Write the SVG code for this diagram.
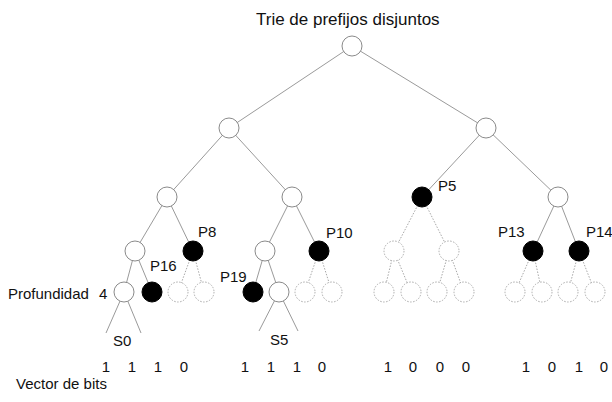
<svg xmlns="http://www.w3.org/2000/svg" width="612" height="402" viewBox="0 0 612 402">
  <style>
    text { font-family: "Liberation Sans", Arial, sans-serif; font-size: 15px; fill: #111; }
    .title { font-size: 17px; }
    .e { stroke: #9a9a9a; stroke-width: 1; fill: none; }
    .ed { stroke: #a8a8a8; stroke-width: 1; stroke-dasharray: 1.5 1.5; fill: none; }
    .n { fill: #fff; stroke: #8a8a8a; stroke-width: 1; }
    .p { fill: #000; stroke: #000; stroke-width: 1; }
    .d { fill: #fff; stroke: #aaa; stroke-width: 1; stroke-dasharray: 1.5 1.5; }
  </style>

  <text class="title" x="256" y="25">Trie de prefijos disjuntos</text>

  <!-- connectors -->
  <g id="edges">
    <line class="e" x1="352" y1="46" x2="229" y2="128"/>
    <line class="e" x1="352" y1="46" x2="486" y2="128"/>
    <line class="e" x1="229" y1="128" x2="167" y2="197"/>
    <line class="e" x1="229" y1="128" x2="292" y2="197"/>
    <line class="e" x1="486" y1="128" x2="422" y2="197"/>
    <line class="e" x1="486" y1="128" x2="558" y2="197"/>
    <line class="e" x1="167" y1="197" x2="135" y2="251"/>
    <line class="e" x1="167" y1="197" x2="193" y2="251"/>
    <line class="e" x1="292" y1="197" x2="265" y2="251"/>
    <line class="e" x1="292" y1="197" x2="319" y2="251"/>
    <line class="ed" x1="422" y1="197" x2="394" y2="251"/>
    <line class="ed" x1="422" y1="197" x2="449" y2="251"/>
    <line class="e" x1="558" y1="197" x2="533" y2="251"/>
    <line class="e" x1="558" y1="197" x2="579" y2="251"/>
    <line class="e" x1="135" y1="251" x2="124" y2="292"/>
    <line class="e" x1="135" y1="251" x2="152" y2="292"/>
    <line class="ed" x1="193" y1="251" x2="178" y2="292"/>
    <line class="ed" x1="193" y1="251" x2="204" y2="292"/>
    <line class="e" x1="265" y1="251" x2="253" y2="292"/>
    <line class="e" x1="265" y1="251" x2="279" y2="292"/>
    <line class="ed" x1="319" y1="251" x2="305" y2="292"/>
    <line class="ed" x1="319" y1="251" x2="332" y2="292"/>
    <line class="ed" x1="394" y1="251" x2="384" y2="292"/>
    <line class="ed" x1="394" y1="251" x2="411" y2="292"/>
    <line class="ed" x1="449" y1="251" x2="437" y2="292"/>
    <line class="ed" x1="449" y1="251" x2="464" y2="292"/>
    <line class="ed" x1="533" y1="251" x2="515" y2="292"/>
    <line class="ed" x1="533" y1="251" x2="542" y2="292"/>
    <line class="ed" x1="579" y1="251" x2="568" y2="292"/>
    <line class="ed" x1="579" y1="251" x2="595" y2="292"/>
    <line class="e" x1="124" y1="292" x2="106" y2="333"/>
    <line class="e" x1="124" y1="292" x2="141" y2="333"/>
    <line class="e" x1="279" y1="292" x2="259" y2="331"/>
    <line class="e" x1="279" y1="292" x2="298" y2="331"/>
  </g>

  <!-- levels 0-2 -->
  <g id="root"><circle class="n" cx="352" cy="46" r="10"/></g>
  <g id="n0"><circle class="n" cx="229" cy="128" r="10"/></g>
  <g id="n1"><circle class="n" cx="486" cy="128" r="10"/></g>
  <g id="n00"><circle class="n" cx="167" cy="197" r="10"/></g>
  <g id="n01"><circle class="n" cx="292" cy="197" r="10"/></g>
  <g id="p5"><circle class="p" cx="422" cy="197" r="10"/><text x="438" y="191">P5</text></g>
  <g id="n11"><circle class="n" cx="558" cy="197" r="10"/></g>

  <!-- level 3 -->
  <g id="n000"><circle class="n" cx="135" cy="251" r="10"/></g>
  <g id="p8"><circle class="p" cx="193" cy="251" r="10"/><text x="198" y="237">P8</text></g>
  <g id="n010"><circle class="n" cx="265" cy="251" r="10"/></g>
  <g id="p10"><circle class="p" cx="319" cy="251" r="10"/><text x="326" y="238">P10</text></g>
  <g id="n100"><circle class="d" cx="394" cy="251" r="10"/></g>
  <g id="n101"><circle class="d" cx="449" cy="251" r="10"/></g>
  <g id="p13"><circle class="p" cx="533" cy="251" r="10"/><text x="498" y="237">P13</text></g>
  <g id="p14"><circle class="p" cx="579" cy="251" r="10"/><text x="586" y="237">P14</text></g>

  <!-- level 4 -->
  <g id="s0"><circle class="n" cx="124" cy="292" r="10"/><text x="113" y="346">S0</text></g>
  <g id="p16"><circle class="p" cx="152" cy="292" r="10"/><text x="150" y="271">P16</text></g>
  <g id="d1"><circle class="d" cx="178" cy="292" r="10"/></g>
  <g id="d2"><circle class="d" cx="204" cy="292" r="10"/></g>
  <g id="p19"><circle class="p" cx="253" cy="292" r="10"/><text x="220" y="282">P19</text></g>
  <g id="s5"><circle class="n" cx="279" cy="292" r="10"/><text x="270" y="345">S5</text></g>
  <g id="d3"><circle class="d" cx="305" cy="292" r="10"/></g>
  <g id="d4"><circle class="d" cx="332" cy="292" r="10"/></g>
  <g id="d5"><circle class="d" cx="384" cy="292" r="10"/></g>
  <g id="d6"><circle class="d" cx="411" cy="292" r="10"/></g>
  <g id="d7"><circle class="d" cx="437" cy="292" r="10"/></g>
  <g id="d8"><circle class="d" cx="464" cy="292" r="10"/></g>
  <g id="d9"><circle class="d" cx="515" cy="292" r="10"/></g>
  <g id="d10"><circle class="d" cx="542" cy="292" r="10"/></g>
  <g id="d11"><circle class="d" cx="568" cy="292" r="10"/></g>
  <g id="d12"><circle class="d" cx="595" cy="292" r="10"/></g>

  <text x="8" y="299">Profundidad</text>
  <text x="99" y="299">4</text>

  <!-- bit vector -->
  <g id="bits" text-anchor="middle">
    <text x="106" y="372">1</text>
    <text x="132" y="372">1</text>
    <text x="158" y="372">1</text>
    <text x="184" y="372">0</text>
    <text x="245" y="372">1</text>
    <text x="271" y="372">1</text>
    <text x="297" y="372">1</text>
    <text x="322" y="372">0</text>
    <text x="388" y="372">1</text>
    <text x="413" y="372">0</text>
    <text x="440" y="372">0</text>
    <text x="466" y="372">0</text>
    <text x="526" y="372">1</text>
    <text x="552" y="372">0</text>
    <text x="579" y="372">1</text>
    <text x="604" y="372">0</text>
  </g>
  <text x="16" y="389">Vector de bits</text>
</svg>
